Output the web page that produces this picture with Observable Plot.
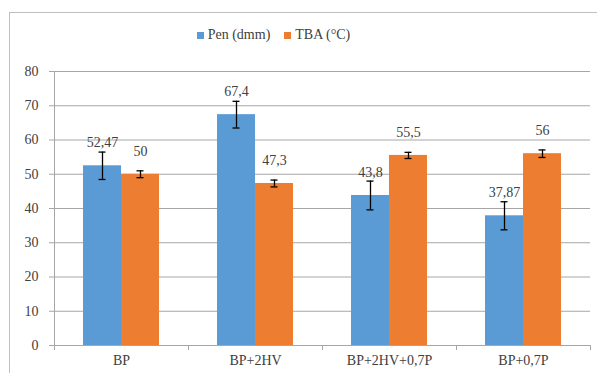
<!DOCTYPE html>
<html>
<head>
<meta charset="utf-8">
<script src="https://cdn.jsdelivr.net/npm/d3@7"></script>
<script src="https://cdn.jsdelivr.net/npm/@observablehq/plot@0.6"></script>
<style>
  html, body { margin: 0; padding: 0; background: #fff; }
  #wrap { position: relative; width: 597px; height: 373px; overflow: hidden; font-family: 'Liberation Serif', 'DejaVu Serif', serif; }
  #border { position: absolute; left: 9px; top: 12px; width: 700px; height: 500px; border-left: 1px solid #BFBFBF; border-top: 1px solid #BFBFBF; }
  #legend { position: absolute; top: 27px; left: 0; width: 597px; display: flex; justify-content: center; gap: 14px; font-size: 14px; color: #404040; padding-right: 50px; box-sizing: border-box; font-family: 'Liberation Serif', 'DejaVu Serif', serif; }
  #legend span.item { display: inline-flex; align-items: center; }
  #legend span.sw { display: inline-block; width: 7px; height: 7px; margin-right: 4px; }
  #chart { position: absolute; left: 0; top: 0; }
  #chart svg, #chart svg text { font-family: 'Liberation Serif', 'DejaVu Serif', serif !important; }
</style>
</head>
<body>
<div id="wrap">
  <div id="border"></div>
  <div id="chart"></div>
  <div id="legend"></div>
</div>
<script>
const categories = ["BP", "BP+2HV", "BP+2HV+0,7P", "BP+0,7P"];
const seriesNames = ["Pen (dmm)", "TBA (°C)"];
const seriesColors = ["#5B9BD5", "#ED7D31"];
const penValues = [52.47, 67.4, 43.8, 37.87];
const penErrors = [4.0, 3.9, 4.2, 4.1];
const tbaValues = [50, 47.3, 55.5, 56];
const tbaErrors = [1.0, 1.0, 0.9, 1.1];
const yTicks = [0, 10, 20, 30, 40, 50, 60, 70, 80];

const rows = [];
categories.forEach((c, i) => {
  rows.push({cat: c, series: seriesNames[0], value: penValues[i], err: penErrors[i]});
  rows.push({cat: c, series: seriesNames[1], value: tbaValues[i], err: tbaErrors[i]});
});
const fmt = v => String(v).replace(".", ",");

const chart = Plot.plot({
  width: 597,
  height: 373,
  marginLeft: 52,
  marginRight: 6,
  marginTop: 71,
  marginBottom: 28,
  style: "font-family: 'Liberation Serif', 'DejaVu Serif', serif; font-size: 14px; background: transparent; color: #404040;",
  fx: {domain: categories, padding: 0, label: null},
  x: {domain: seriesNames, paddingInner: 0, paddingOuter: 0.75, axis: null},
  y: {domain: [0, 80], label: null},
  color: {domain: seriesNames, range: seriesColors},
  marks: [
    Plot.ruleY(yTicks, {stroke: "#A6A6A6", strokeWidth: 1}),
    Plot.barY(rows, {fx: "cat", x: "series", y: "value", fill: "series"}),
    Plot.ruleX(rows, {fx: "cat", x: "series", y1: d => d.value - d.err, y2: d => d.value + d.err, stroke: "#000", strokeWidth: 1.3}),
    Plot.tickY(rows, {fx: "cat", x: "series", y: d => d.value - d.err, stroke: "#000", strokeWidth: 1.3, inset: 15.5}),
    Plot.tickY(rows, {fx: "cat", x: "series", y: d => d.value + d.err, stroke: "#000", strokeWidth: 1.3, inset: 15.5}),
    Plot.text(rows, {fx: "cat", x: "series", y: "value", text: d => fmt(d.value), dy: -23, fill: "#404040", fontSize: 14}),
    Plot.axisY({ticks: yTicks, tickSize: 5, tickPadding: 11, stroke: "#A6A6A6", fill: "#404040", label: null, fontSize: 14}),
    Plot.axisFx({anchor: "bottom", tickSize: 0, tickPadding: 10, fill: "#404040", label: null, fontSize: 14})
  ]
});
document.getElementById("chart").appendChild(chart);

// axis line and between-category tick marks, from the plot's own scales
const fx = chart.scale("fx");
const y = chart.scale("y");
const svg = d3.select(chart);
const g = svg.append("g").attr("stroke", "#A6A6A6").attr("stroke-width", 1);
const x0 = fx.apply(categories[0]);
g.append("line").attr("x1", x0 + 0.5).attr("x2", x0 + 0.5).attr("y1", y.apply(80)).attr("y2", y.apply(0));
const bounds = categories.map(c => fx.apply(c)).concat([fx.apply(categories[categories.length - 1]) + fx.bandwidth]);
bounds.forEach(b => {
  g.append("line").attr("x1", b + 0.5).attr("x2", b + 0.5).attr("y1", y.apply(0)).attr("y2", y.apply(0) + 5);
});

const legend = d3.select("#legend");
seriesNames.forEach((s, i) => {
  const it = legend.append("span").attr("class", "item");
  it.append("span").attr("class", "sw").style("background", seriesColors[i]);
  it.append("span").text(s);
});
</script>
</body>
</html>
